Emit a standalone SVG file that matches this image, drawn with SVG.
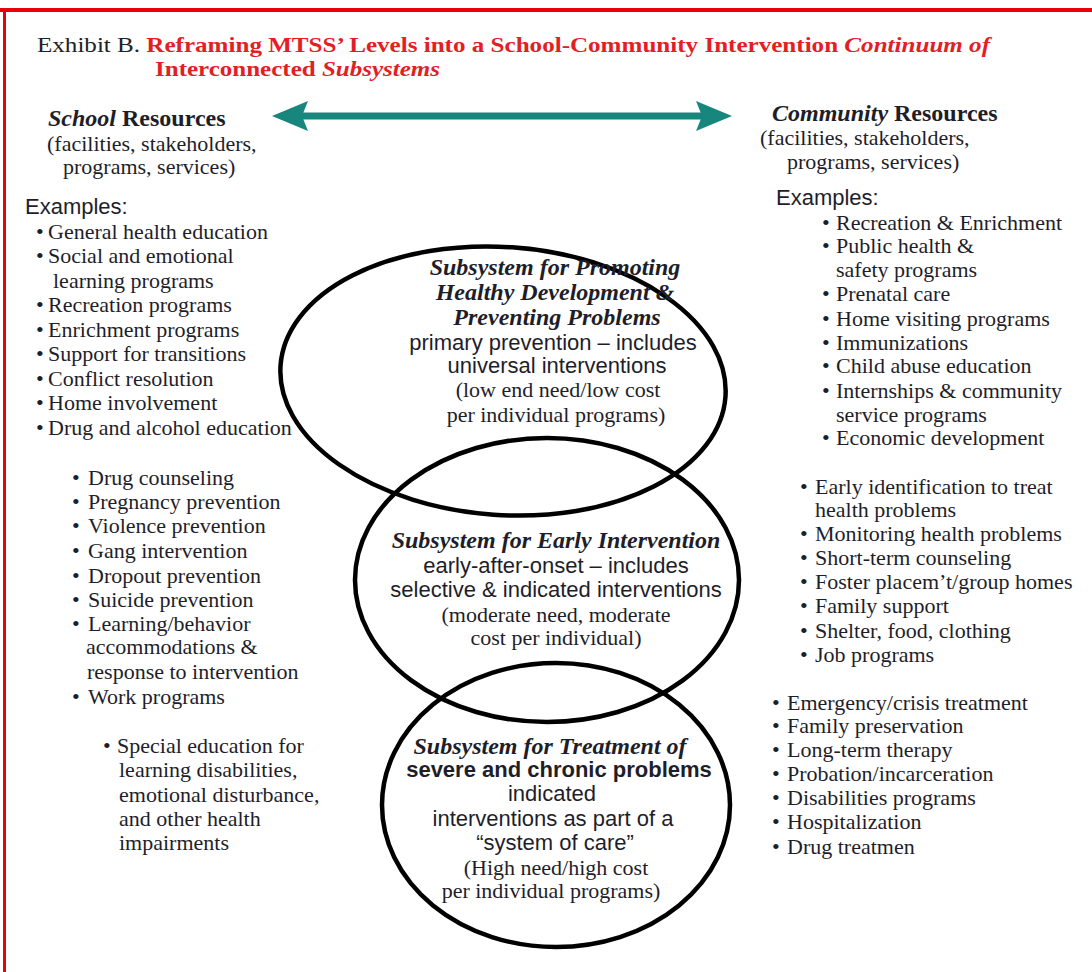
<svg xmlns="http://www.w3.org/2000/svg" width="1092" height="972" viewBox="0 0 1092 972">
<style>
.s{font-family:"Liberation Serif","Times New Roman",serif;font-size:22px;fill:#1e1e2a}
.a{font-family:"Liberation Sans",Arial,sans-serif;font-size:22px;fill:#1e1e2a}
.h{font-family:"Liberation Serif","Times New Roman",serif;font-size:24px;font-weight:bold;font-style:italic;fill:#1e1e2a}
.hd{font-family:"Liberation Serif","Times New Roman",serif;font-size:24px;font-weight:bold;fill:#1e1e2a}
.t{font-family:"Liberation Serif","Times New Roman",serif;font-size:22px;fill:#222}
.red{fill:#e31e24;font-weight:bold}
.bi{font-style:italic}
.m{text-anchor:middle}
.e{fill:none;stroke:#000;stroke-width:4.5}
.arr{fill:#17877e}
</style>
<rect x="0" y="0" width="1092" height="972" fill="#fff"/>
<rect x="0" y="8" width="1092" height="4" fill="#e8000b"/>
<rect x="3" y="8" width="3" height="964" fill="#e8000b"/>

<g id="title">
<text class="t" x="37" y="52" textLength="953" lengthAdjust="spacingAndGlyphs">Exhibit B. <tspan class="red">Reframing MTSS’ Levels into a School-Community Intervention <tspan class="bi">Continuum of</tspan></tspan></text>
<text class="t" x="155" y="76" textLength="285" lengthAdjust="spacingAndGlyphs"><tspan class="red">Interconnected <tspan class="bi">Subsystems</tspan></tspan></text>
</g>

<g id="school-resources">
<text class="hd" x="48" y="126"><tspan class="bi">School</tspan> Resources</text>
<text class="s" x="47" y="151">(facilities, stakeholders,</text>
<text class="s" x="63" y="174">programs, services)</text>
</g>

<g id="community-resources">
<text class="hd" x="772" y="121"><tspan class="bi">Community</tspan> Resources</text>
<text class="s" x="760" y="145">(facilities, stakeholders,</text>
<text class="s" x="787" y="169">programs, services)</text>
</g>

<g id="school-examples-prevention">
<text class="a" x="25" y="214" font-size="21">Examples:</text>
<text class="s">
<tspan x="36" y="239">•</tspan><tspan x="48">General health education</tspan>
<tspan x="36" y="263">•</tspan><tspan x="48">Social and emotional</tspan>
<tspan x="53" y="288">learning programs</tspan>
<tspan x="36" y="312">•</tspan><tspan x="48">Recreation programs</tspan>
<tspan x="36" y="337">•</tspan><tspan x="48">Enrichment programs</tspan>
<tspan x="36" y="361">•</tspan><tspan x="48">Support for transitions</tspan>
<tspan x="36" y="386">•</tspan><tspan x="48">Conflict resolution</tspan>
<tspan x="36" y="410">•</tspan><tspan x="48">Home involvement</tspan>
<tspan x="36" y="435">•</tspan><tspan x="48">Drug and alcohol education</tspan>
</text>
</g>

<g id="school-examples-early">
<text class="s">
<tspan x="72" y="485">•</tspan><tspan x="88">Drug counseling</tspan>
<tspan x="72" y="509">•</tspan><tspan x="88">Pregnancy prevention</tspan>
<tspan x="72" y="533">•</tspan><tspan x="88">Violence prevention</tspan>
<tspan x="72" y="558">•</tspan><tspan x="88">Gang intervention</tspan>
<tspan x="72" y="583">•</tspan><tspan x="88">Dropout prevention</tspan>
<tspan x="72" y="607">•</tspan><tspan x="88">Suicide prevention</tspan>
<tspan x="72" y="631">•</tspan><tspan x="88">Learning/behavior</tspan>
<tspan x="86" y="654">accommodations &amp;</tspan>
<tspan x="87" y="679">response to intervention</tspan>
<tspan x="72" y="704">•</tspan><tspan x="88">Work programs</tspan>
</text>
</g>

<g id="school-examples-treatment">
<text class="s">
<tspan x="103" y="753">•</tspan><tspan x="117">Special education for</tspan>
<tspan x="119" y="777">learning disabilities,</tspan>
<tspan x="119" y="802">emotional disturbance,</tspan>
<tspan x="119" y="826">and other health</tspan>
<tspan x="119" y="850">impairments</tspan>
</text>
</g>

<g id="community-examples-prevention">
<text class="a" x="776" y="205" font-size="21">Examples:</text>
<text class="s">
<tspan x="822" y="230">•</tspan><tspan x="836">Recreation &amp; Enrichment</tspan>
<tspan x="822" y="253">•</tspan><tspan x="836">Public health &amp;</tspan>
<tspan x="836" y="277">safety programs</tspan>
<tspan x="822" y="301">•</tspan><tspan x="836">Prenatal care</tspan>
<tspan x="822" y="326">•</tspan><tspan x="836">Home visiting programs</tspan>
<tspan x="822" y="350">•</tspan><tspan x="836">Immunizations</tspan>
<tspan x="822" y="373">•</tspan><tspan x="836">Child abuse education</tspan>
<tspan x="822" y="398">•</tspan><tspan x="836">Internships &amp; community</tspan>
<tspan x="836" y="422">service programs</tspan>
<tspan x="822" y="445">•</tspan><tspan x="836">Economic development</tspan>
</text>
</g>

<g id="community-examples-early">
<text class="s">
<tspan x="800" y="494">•</tspan><tspan x="815">Early identification to treat</tspan>
<tspan x="815" y="517">health problems</tspan>
<tspan x="800" y="541">•</tspan><tspan x="815">Monitoring health problems</tspan>
<tspan x="800" y="565">•</tspan><tspan x="815">Short-term counseling</tspan>
<tspan x="800" y="589">•</tspan><tspan x="815">Foster placem’t/group homes</tspan>
<tspan x="800" y="613">•</tspan><tspan x="815">Family support</tspan>
<tspan x="800" y="638">•</tspan><tspan x="815">Shelter, food, clothing</tspan>
<tspan x="800" y="662">•</tspan><tspan x="815">Job programs</tspan>
</text>
</g>

<g id="community-examples-treatment">
<text class="s">
<tspan x="772" y="710">•</tspan><tspan x="787">Emergency/crisis treatment</tspan>
<tspan x="772" y="733">•</tspan><tspan x="787">Family preservation</tspan>
<tspan x="772" y="757">•</tspan><tspan x="787">Long-term therapy</tspan>
<tspan x="772" y="781">•</tspan><tspan x="787">Probation/incarceration</tspan>
<tspan x="772" y="805">•</tspan><tspan x="787">Disabilities programs</tspan>
<tspan x="772" y="829">•</tspan><tspan x="787">Hospitalization</tspan>
<tspan x="772" y="854">•</tspan><tspan x="787">Drug treatmen</tspan>
</text>
</g>

<g id="subsystem-prevention">
<ellipse class="e" cx="503" cy="381" rx="223" ry="134" transform="rotate(4 503 381)"/>
<text class="h m" x="555" y="275">Subsystem for Promoting</text>
<text class="h m" x="555" y="300">Healthy Development &amp;</text>
<text class="h m" x="557" y="325">Preventing Problems</text>
<text class="a m" x="553" y="350">primary prevention – includes</text>
<text class="a m" x="557" y="373">universal interventions</text>
<text class="s m" x="558" y="397">(low end need/low cost</text>
<text class="s m" x="556" y="422">per individual programs)</text>
</g>

<g id="subsystem-early">
<ellipse class="e" cx="547" cy="580" rx="192" ry="142"/>
<text class="h m" x="556" y="548">Subsystem for Early Intervention</text>
<text class="a m" x="556" y="573">early-after-onset – includes</text>
<text class="a m" x="556" y="597">selective &amp; indicated interventions</text>
<text class="s m" x="556" y="622">(moderate need, moderate</text>
<text class="s m" x="556" y="645">cost per individual)</text>
</g>

<g id="subsystem-treatment">
<ellipse class="e" cx="556" cy="805" rx="174" ry="142"/>
<text class="h m" x="550" y="754">Subsystem for Treatment of</text>
<text class="a m" x="559" y="777" font-weight="bold">severe and chronic problems</text>
<text class="a m" x="552" y="801">indicated</text>
<text class="a m" x="553" y="826">interventions as part of a</text>
<text class="a m" x="555" y="850">“system of care”</text>
<text class="s m" x="556" y="875">(High need/high cost</text>
<text class="s m" x="551" y="898">per individual programs)</text>
</g>

<g id="connectors">
<line x1="300" y1="116" x2="704" y2="116" stroke="#17877e" stroke-width="7"/>
<path class="arr" d="M272,116 L308,101 L302,116 L308,131 Z"/>
<path class="arr" d="M732,116 L696,101 L702,116 L696,131 Z"/>
</g>
</svg>
